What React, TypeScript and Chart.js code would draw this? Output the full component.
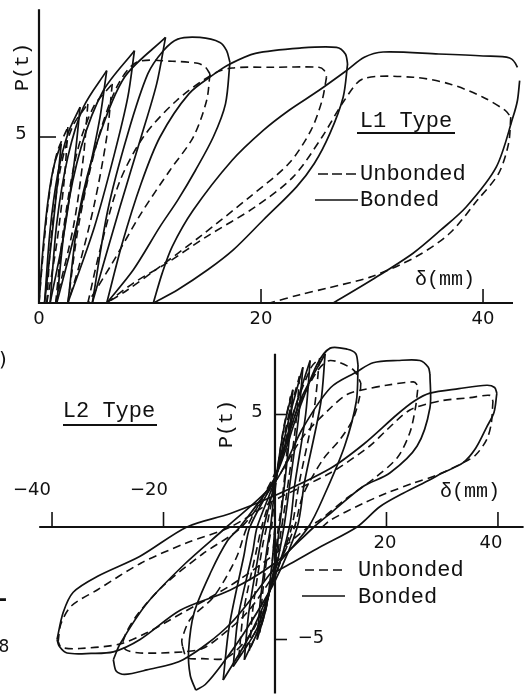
import React, { useEffect, useRef } from "react";
import { Chart, registerables } from "chart.js";

Chart.register(...registerables);

type Pt = [number, number];

// ---------- L1 Type (one-directional loading) ----------
const L1_X_TICKS = [20, 40];
const L1_Y_TICKS = [5];
const L1_X_LABELS = ["0", "20", "40"];

const L1_BONDED: Pt[][] = [
  [[0, 0], [0.4, 1.8], [0.9, 3.3], [1.4, 4.2], [2.0, 4.8]],
  [[2.0, 4.8], [1.6, 3.4], [1.0, 1.5], [0.5, 0]],
  [[0.5, 0], [1.0, 2.2], [1.7, 3.9], [2.6, 5.1], [3.7, 5.9]],
  [[3.7, 5.9], [3.2, 4.3], [2.2, 2.0], [1.0, 0]],
  [[1.0, 0], [1.6, 2.4], [2.6, 4.4], [4.0, 5.9], [6.1, 7.0]],
  [[6.1, 7.0], [5.5, 5.6], [4.4, 3.8], [3.0, 1.8], [1.6, 0]],
  [[1.6, 0], [2.4, 2.5], [3.8, 4.7], [5.8, 6.4], [8.6, 7.6]],
  [[8.6, 7.6], [8.0, 6.2], [6.8, 4.5], [5.0, 2.3], [2.6, 0]],
  [[2.6, 0], [3.6, 2.7], [5.3, 4.9], [7.7, 6.8], [11.4, 8.0]],
  [[11.4, 8.0], [10.6, 6.6], [9.2, 5.0], [7.3, 2.9], [4.8, 0]],
  [[4.8, 0], [6.2, 2.8], [8.0, 5.1], [9.8, 6.9], [11.2, 7.6], [12.5, 7.95], [14.5, 8.0], [16.3, 7.85], [16.9, 7.6], [17.2, 7.25]],
  [[17.2, 7.25], [16.8, 6.0], [15.7, 5.0], [14.1, 4.0], [12.5, 3.1], [10.9, 2.3], [8.5, 1.0], [6.1, 0]],
  [[6.1, 0], [7.5, 1.8], [9.2, 3.6], [10.9, 5.0], [13.5, 6.3], [15.8, 6.9], [17.2, 7.2], [19.5, 7.52], [23.5, 7.68], [26.8, 7.7], [27.6, 7.5], [27.8, 7.2]],
  [[27.8, 7.2], [27.4, 6.2], [26.2, 5.1], [24.8, 4.2], [23.2, 3.5], [20.2, 2.5], [17.5, 1.6], [15.2, 1.0], [12.5, 0.4], [10.3, 0]],
  [[10.3, 0], [11.1, 0.9], [12.0, 1.7], [13.9, 2.8], [17.4, 4.3], [20.2, 5.2], [22.5, 5.8], [25.2, 6.4], [27.7, 7.0], [29.3, 7.4], [31, 7.56], [36, 7.5], [40, 7.44], [42.4, 7.38], [43.1, 7.1], [43.3, 6.7]],
  [[43.3, 6.7], [43.1, 6.1], [42.7, 5.6], [41.2, 4.1], [38.5, 2.9], [36.2, 2.2], [33.7, 1.5], [30, 0.7], [26.5, 0]],
];

const L1_UNBONDED: Pt[][] = [
  [[0, 0], [0.4, 1.6], [0.9, 3.2], [1.6, 4.5], [2.6, 5.3]],
  [[2.6, 5.3], [2.3, 3.8], [1.6, 1.8], [0.7, 0]],
  [[0.7, 0], [1.1, 2.0], [1.9, 4.0], [3.0, 5.3], [4.4, 6.0]],
  [[4.4, 6.0], [4.0, 4.4], [3.1, 2.3], [1.5, 0]],
  [[1.5, 0], [2.2, 2.2], [3.4, 4.5], [4.9, 5.9], [6.6, 6.6]],
  [[6.6, 6.6], [6.1, 5.0], [5.0, 3.0], [3.6, 1.1], [2.6, 0]],
  [[2.6, 0], [3.6, 2.4], [5.2, 4.8], [7.0, 6.5], [8.8, 7.25], [12, 7.28], [14.3, 7.22], [15.0, 7.1], [15.4, 6.9]],
  [[15.4, 6.9], [15.1, 6.1], [13.9, 5.0], [11.8, 4.0], [9.2, 2.7], [6.6, 1.2], [4.4, 0]],
  [[4.4, 0], [5.5, 1.6], [7.2, 3.6], [9.4, 5.0], [12.4, 6.1], [15.7, 6.9], [17.4, 7.08], [21, 7.1], [25.2, 7.1], [25.7, 7.0], [25.9, 6.8]],
  [[25.9, 6.8], [25.5, 6.1], [24.5, 5.2], [22.5, 4.2], [19, 3.2], [14.5, 2.0], [10.5, 1.0], [8, 0.4], [6.1, 0]],
  [[6.1, 0], [8.5, 0.6], [11.5, 1.2], [15.1, 2.0], [19.5, 2.9], [22.9, 3.8], [25.5, 5.0], [27.5, 6.1], [29.2, 6.75], [33.7, 6.8], [37, 6.6], [40, 6.2], [42.0, 5.8], [42.5, 5.6]],
  [[42.5, 5.6], [42.3, 4.8], [41.4, 3.9], [39.5, 3.1], [37, 2.1], [34, 1.4], [30, 0.8], [26, 0.45], [23.5, 0.25], [20.8, 0]],
];

// ---------- L2 Type (reversed cyclic loading) ----------
const L2_X_TICKS = [-40, -20, 20, 40];
const L2_Y_TICKS = [5, -5];

const L2_BONDED: Pt[][] = [
  [[0, 0], [-0.6, -1.8], [-1.6, -3.6], [-3.2, -5.0]],
  [[-3.2, -5.0], [-2.6, -3.2], [-1.4, -0.9], [-0.8, 0], [0, 1.8], [1.6, 4.4], [3.2, 6.1]],
  [[3.2, 6.1], [2.6, 4.0], [1.4, 1.2], [0.8, 0], [0, -1.6], [-2.2, -4.1], [-5.5, -5.9]],
  [[-5.5, -5.9], [-4.7, -3.8], [-2.8, -1.0], [-2.0, 0], [0, 2.0], [2.5, 4.8], [5.0, 7.1]],
  [[5.0, 7.1], [4.2, 4.8], [2.5, 1.6], [1.6, 0], [0, -2.0], [-3.2, -4.5], [-7.5, -6.2]],
  [[-7.5, -6.2], [-6.6, -4.0], [-4, -1.1], [-3.2, 0], [0, 2.1], [3.5, 5.2], [6.3, 7.4]],
  [[6.3, 7.4], [5.5, 5.0], [3.5, 1.8], [2.6, 0], [0, -2.2], [-4.5, -4.8], [-9.3, -6.8]],
  [[-9.3, -6.8], [-8.2, -4.4], [-5.6, -1.3], [-4.5, 0], [0, 2.2], [4.5, 5.6], [9.0, 7.7]],
  [[9.0, 7.7], [8.2, 5.5], [5.3, 2.0], [4.0, 0], [0, -2.4], [-5, -4.5], [-9.5, -6.1], [-12.5, -7.0], [-14.2, -7.25]],
  [[-14.2, -7.25], [-15.2, -6.6], [-15.5, -5.5], [-14.5, -3.8], [-11.5, -2.0], [-8.5, -0.6], [-6.3, 0], [0, 2.2], [4, 5.0], [7.5, 7.2], [9.9, 7.95], [13, 7.9], [14.5, 7.7], [14.9, 7.2]],
  [[14.9, 7.2], [14.6, 5.6], [12.5, 3.6], [9, 1.5], [6, 0], [0, -1.8], [-8, -4.3], [-16.5, -5.9], [-23, -6.35], [-27, -6.55], [-28.5, -6.4], [-29, -5.9]],
  [[-29, -5.9], [-27.8, -5.2], [-23, -3.4], [-16, -1.6], [-8.7, 0], [0, 2.0], [5, 4.4], [10, 6.2], [14.7, 6.9], [17.6, 7.3], [22, 7.4], [26, 7.4], [27.5, 7.1], [27.8, 6.8]],
  [[27.8, 6.8], [27.8, 5.3], [25.5, 3.6], [20.6, 2.4], [15.8, 1.8], [9.9, 0.6], [7, 0], [0, -1.6], [-8, -2.8], [-17, -3.7], [-24.2, -5.0], [-29, -5.55], [-33, -5.62], [-37.3, -5.6], [-38.7, -5.3], [-39.1, -5.0]],
  [[-39.1, -5.0], [-38, -3.8], [-36.2, -2.9], [-31.9, -2.2], [-24.2, -1.3], [-15.8, 0], [-8, 0.6], [0, 1.4], [9.9, 2.6], [16, 3.7], [21.9, 5.0], [25, 5.6], [27.8, 5.95], [33, 6.15], [38, 6.3], [39.4, 6.2], [39.8, 5.95]],
  [[39.8, 5.95], [39.3, 5.1], [38, 4.45], [36, 3.5], [33.7, 2.85], [30, 2.4], [27.8, 2.1], [23, 1.5], [18.8, 0.9], [14.7, 0], [8, -0.9], [3, -1.6], [0, -2.0]],
];

const L2_UNBONDED: Pt[][] = [
  [[0, 0], [-0.5, -1.6], [-1.4, -3.4], [-2.8, -4.7]],
  [[-2.8, -4.7], [-2.2, -2.9], [-1.1, -0.7], [-0.6, 0], [0, 1.6], [1.4, 4.2], [2.8, 5.8]],
  [[2.8, 5.8], [2.3, 3.8], [1.2, 1.0], [0.6, 0], [0, -1.5], [-2.0, -3.9], [-4.6, -5.5]],
  [[-4.6, -5.5], [-3.9, -3.5], [-2.2, -0.8], [-1.5, 0], [0, 1.9], [2.2, 4.7], [4.4, 6.7]],
  [[4.4, 6.7], [3.7, 4.5], [2.0, 1.3], [1.2, 0], [0, -1.8], [-2.8, -4.3], [-6.5, -5.8]],
  [[-6.5, -5.8], [-5.6, -3.7], [-3.2, -0.9], [-2.4, 0], [0, 2.0], [3.2, 5.0], [6.5, 7.1], [8, 7.5]],
  [[8, 7.5], [7.0, 5.2], [4.3, 1.9], [3.0, 0], [0, -2.2], [-4, -4.6], [-8.6, -5.8], [-13, -5.85], [-15.8, -5.8], [-16.6, -5.3]],
  [[-16.6, -5.3], [-16.7, -5.0], [-15.2, -4.1], [-11, -3.1], [-7, -1.4], [-5, 0], [0, 2.4], [4, 5.2], [7.5, 6.9], [9.9, 7.4], [14, 7.0], [15.4, 6.4]],
  [[15.4, 6.4], [15.2, 5.8], [14, 4.8], [11.7, 3.9], [8.6, 3.0], [5, 1.4], [3.5, 0], [0, -2.0], [-5, -3.8], [-10, -4.9], [-13, -5.4], [-16.5, -5.55], [-24.2, -5.6], [-26.8, -5.45], [-27.3, -5.1]],
  [[-27.3, -5.1], [-26.5, -4.6], [-24.4, -3.8], [-20, -2.6], [-13, -1.2], [-6, 0], [0, 2.0], [5, 4.0], [10, 5.3], [13, 5.9], [15.8, 6.1], [20, 6.3], [24.8, 6.45], [25.4, 6.35], [25.6, 6.1]],
  [[25.6, 6.1], [25.2, 5.3], [24.2, 4.2], [22, 3.1], [18, 2.2], [13, 1.3], [8, 0.3], [6, 0], [0, -1.2], [-8, -2.6], [-16.5, -3.8], [-23, -4.7], [-27.8, -5.2], [-35, -5.4], [-38.3, -5.35], [-38.9, -5.1]],
  [[-38.9, -5.1], [-38.4, -4.3], [-36.5, -3.5], [-31.9, -2.8], [-24, -1.6], [-15.8, -0.7], [-8, 0], [0, 1.2], [9.9, 2.4], [17, 3.6], [20, 4.3], [24.2, 5.2], [29.6, 5.6], [35, 5.75], [38.6, 5.85], [39.1, 5.6]],
  [[39.1, 5.6], [38.8, 4.6], [38, 3.9], [36, 3.2], [33.7, 2.85], [29, 2.3], [24.8, 1.95], [20, 1.5], [15.8, 1.05], [9.9, 0.3], [8.5, 0]],
];

const INK = "#111111";
const MONO = "'Liberation Mono', 'DejaVu Sans Mono', monospace";
const SANS = "'DejaVu Sans', 'Liberation Sans', sans-serif";

function makeDatasets(bonded: Pt[][], unbonded: Pt[][]) {
  const ds: any[] = [];
  unbonded.forEach((b) =>
    ds.push({
      label: "Unbonded",
      data: b.map(([x, y]) => ({ x, y })),
      showLine: true,
      borderColor: INK,
      borderWidth: 1.6,
      borderDash: [8, 5],
      pointRadius: 0,
      tension: 0.3,
      fill: false,
      clip: false,
    })
  );
  bonded.forEach((b) =>
    ds.push({
      label: "Bonded",
      data: b.map(([x, y]) => ({ x, y })),
      showLine: true,
      borderColor: INK,
      borderWidth: 1.7,
      pointRadius: 0,
      tension: 0.3,
      fill: false,
      clip: false,
    })
  );
  return ds;
}

function text(ctx: CanvasRenderingContext2D, s: string, x: number, y: number, font: string, align: CanvasTextAlign = "center") {
  ctx.font = font;
  ctx.textAlign = align;
  ctx.textBaseline = "middle";
  ctx.fillText(s, x, y);
}

const topPlugin = {
  id: "l1axes",
  afterDraw(chart: any) {
    const ctx: CanvasRenderingContext2D = chart.ctx;
    const X = (v: number) => chart.scales.x.getPixelForValue(v);
    const Y = (v: number) => chart.scales.y.getPixelForValue(v);
    ctx.save();
    ctx.strokeStyle = INK;
    ctx.fillStyle = INK;
    ctx.setLineDash([]);
    ctx.lineWidth = 2.2;
    ctx.beginPath();
    ctx.moveTo(X(0), Y(chart.scales.y.max));
    ctx.lineTo(X(0), Y(0));
    ctx.lineTo(X(chart.scales.x.max), Y(0));
    ctx.stroke();
    ctx.lineWidth = 1.6;
    L1_Y_TICKS.forEach((t) => {
      ctx.beginPath();
      ctx.moveTo(X(0), Y(t));
      ctx.lineTo(X(0) + 17, Y(t));
      ctx.stroke();
      text(ctx, String(t), X(0) - 18, Y(t) - 3, `18px ${SANS}`);
    });
    L1_X_TICKS.forEach((t) => {
      ctx.beginPath();
      ctx.moveTo(X(t), Y(0));
      ctx.lineTo(X(t), Y(0) - 14);
      ctx.stroke();
    });
    [0, ...L1_X_TICKS].forEach((t, i) => text(ctx, L1_X_LABELS[i], X(t), Y(0) + 16, `18px ${SANS}`));
    ctx.save();
    ctx.translate(23, 67);
    ctx.rotate(-Math.PI / 2);
    text(ctx, "P(t)", 0, 0, `20px ${MONO}`);
    ctx.restore();
    text(ctx, "δ(mm)", 445, 280, `20px ${MONO}`);
    text(ctx, "L1 Type", 406, 121, `22px ${MONO}`);
    ctx.fillRect(357, 132, 98, 2);
    ctx.lineWidth = 1.6;
    ctx.setLineDash([10, 4]);
    ctx.beginPath();
    ctx.moveTo(318, 174);
    ctx.lineTo(358, 174);
    ctx.stroke();
    ctx.setLineDash([]);
    ctx.beginPath();
    ctx.moveTo(315, 200);
    ctx.lineTo(358, 200);
    ctx.stroke();
    text(ctx, "Unbonded", 360, 174, `22px ${MONO}`, "left");
    text(ctx, "Bonded", 360, 200, `22px ${MONO}`, "left");
    ctx.restore();
  },
};

const bottomPlugin = {
  id: "l2axes",
  afterDraw(chart: any) {
    const ctx: CanvasRenderingContext2D = chart.ctx;
    const X = (v: number) => chart.scales.x.getPixelForValue(v);
    const Y = (v: number) => chart.scales.y.getPixelForValue(v);
    const off = 330;
    ctx.save();
    ctx.strokeStyle = INK;
    ctx.fillStyle = INK;
    ctx.setLineDash([]);
    ctx.lineWidth = 2.2;
    ctx.beginPath();
    ctx.moveTo(X(0), Y(chart.scales.y.max));
    ctx.lineTo(X(0), Y(chart.scales.y.min));
    ctx.moveTo(X(chart.scales.x.min), Y(0));
    ctx.lineTo(X(chart.scales.x.max), Y(0));
    ctx.stroke();
    ctx.lineWidth = 1.6;
    L2_Y_TICKS.forEach((t) => {
      ctx.beginPath();
      ctx.moveTo(X(0), Y(t));
      ctx.lineTo(X(0) + 12, Y(t));
      ctx.stroke();
    });
    L2_X_TICKS.forEach((t) => {
      ctx.beginPath();
      ctx.moveTo(X(t), Y(0));
      ctx.lineTo(X(t), Y(0) - 15);
      ctx.stroke();
    });
    const f = `18px ${SANS}`;
    text(ctx, "\u221240", 32, 490 - off, f);
    text(ctx, "\u221220", 149, 490 - off, f);
    text(ctx, "20", 385, 543 - off, f);
    text(ctx, "40", 491, 543 - off, f);
    text(ctx, "5", 257, 412 - off, f);
    text(ctx, "\u22125", 311, 638 - off, f);
    ctx.save();
    ctx.translate(227, 424 - off);
    ctx.rotate(-Math.PI / 2);
    text(ctx, "P(t)", 0, 0, `20px ${MONO}`);
    ctx.restore();
    text(ctx, "δ(mm)", 470, 492 - off, `20px ${MONO}`);
    text(ctx, "L2 Type", 109, 411 - off, `22px ${MONO}`);
    ctx.fillRect(63, 424 - off, 94, 2);
    ctx.lineWidth = 1.6;
    ctx.setLineDash([9, 5]);
    ctx.beginPath();
    ctx.moveTo(305, 570 - off);
    ctx.lineTo(342, 570 - off);
    ctx.stroke();
    ctx.setLineDash([]);
    ctx.beginPath();
    ctx.moveTo(302, 596 - off);
    ctx.lineTo(345, 596 - off);
    ctx.stroke();
    text(ctx, "Unbonded", 358, 570 - off, `22px ${MONO}`, "left");
    text(ctx, "Bonded", 358, 597 - off, `22px ${MONO}`, "left");
    text(ctx, ")", 3, 361 - off, `20px ${SANS}`);
    text(ctx, "-", 3, 600 - off, `bold 20px ${SANS}`);
    text(ctx, "8", 4, 648 - off, `17px ${SANS}`);
    ctx.restore();
  },
};

function baseOptions(xmin: number, xmax: number, ymin: number, ymax: number, pad: any) {
  return {
    responsive: false,
    maintainAspectRatio: false,
    animation: false as const,
    devicePixelRatio: 1,
    events: [] as any[],
    layout: { padding: pad },
    plugins: { legend: { display: false }, tooltip: { enabled: false }, title: { display: false } },
    scales: {
      x: { type: "linear" as const, min: xmin, max: xmax, display: false },
      y: { type: "linear" as const, min: ymin, max: ymax, display: false },
    },
  };
}

export default function App() {
  const topRef = useRef<HTMLCanvasElement>(null);
  const botRef = useRef<HTMLCanvasElement>(null);

  useEffect(() => {
    const c1 = new Chart(topRef.current as HTMLCanvasElement, {
      type: "scatter",
      data: { datasets: makeDatasets(L1_BONDED, L1_UNBONDED) },
      options: baseOptions(0, 42.7, 0, 8.85, { left: 39, right: 13, top: 9.2, bottom: 27 }) as any,
      plugins: [topPlugin],
    });
    const c2 = new Chart(botRef.current as HTMLCanvasElement, {
      type: "scatter",
      data: { datasets: makeDatasets(L2_BONDED, L2_UNBONDED) },
      options: baseOptions(-42.3, 44.6, -7.4, 7.7, { left: 39.2, right: 2.4, top: 23.75, bottom: 0.5 }) as any,
      plugins: [bottomPlugin],
    });
    return () => {
      c1.destroy();
      c2.destroy();
    };
  }, []);

  return (
    <div style={{ position: "absolute", left: 0, top: 0, width: 526, height: 694, background: "#fff", overflow: "hidden" }}>
      <canvas ref={topRef} width={526} height={330} style={{ position: "absolute", left: 0, top: 0, width: 526, height: 330 }} />
      <canvas ref={botRef} width={526} height={364} style={{ position: "absolute", left: 0, top: 330, width: 526, height: 364 }} />
    </div>
  );
}
